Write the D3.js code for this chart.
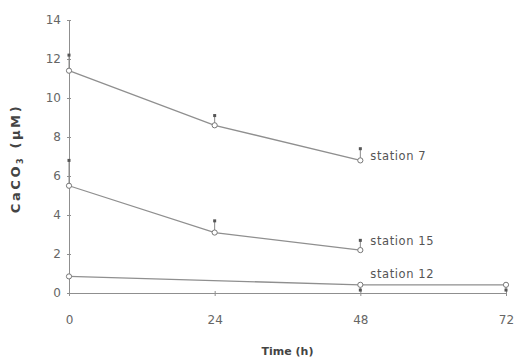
<!DOCTYPE html>
<html>
<head>
<meta charset="utf-8">
<script src="https://cdn.jsdelivr.net/npm/d3@7"></script>
<style>
  html, body { margin: 0; padding: 0; background: #fff; }
  svg { display: block; }
  text { font-family: "DejaVu Sans", "Liberation Sans", sans-serif; fill: #555; }
</style>
</head>
<body>
<svg id="chart" width="516" height="359"></svg>
<script>
// Sampling times (h)
const hours = [0, 24, 48, 72];
const yTicks = [0, 2, 4, 6, 8, 10, 12, 14];

// CaCO3 concentration (µM) per station
const station7Time = [0, 24, 48];
const station7Value = [11.4, 8.6, 6.8];
const station7ErrUp = [12.2, 9.1, 7.4];

const station15Time = [0, 24, 48];
const station15Value = [5.5, 3.1, 2.2];
const station15ErrUp = [6.8, 3.7, 2.7];

const station12Time = [0, 48, 72];
const station12Value = [0.85, 0.42, 0.42];
const station12ErrDown = [0.85, 0.15, 0.15];

const seriesNames = ["station 7", "station 15", "station 12"];

const series = [
  { name: seriesNames[0], t: station7Time, v: station7Value, err: station7ErrUp, labelDy: 0 },
  { name: seriesNames[1], t: station15Time, v: station15Value, err: station15ErrUp, labelDy: -5 },
  { name: seriesNames[2], t: station12Time, v: station12Value, err: station12ErrDown, labelDy: -7, labelAt: 1 }
];

const svg = d3.select("#chart");
const x = d3.scaleLinear().domain([0, 72]).range([69, 506]);
const y = d3.scaleLinear().domain([0, 14]).range([293, 20]);

const grey = "#8f8f8f";

// Axes
const yAxis = d3.axisLeft(y).tickValues(yTicks).tickSize(2).tickPadding(6).tickFormat(d3.format("d"));
const gy = svg.append("g").attr("transform", `translate(${x(0)},0)`).call(yAxis);
gy.select(".domain").attr("stroke", grey);
gy.selectAll(".tick line").attr("stroke", grey).attr("x2", 2).attr("x1", -2);
gy.selectAll(".tick text").attr("font-size", 12).style("fill", "#666");

const xAxis = d3.axisBottom(x).tickValues(hours).tickSize(3).tickPadding(19).tickFormat(d3.format("d"));
const gx = svg.append("g").attr("transform", `translate(0,${y(0)})`).call(xAxis);
gx.select(".domain").attr("stroke", grey);
gx.selectAll(".tick line").attr("stroke", grey).attr("y1", -2).attr("y2", 3);
gx.selectAll(".tick text").attr("font-size", 12).style("fill", "#666");

// Axis titles
svg.append("text")
  .attr("transform", `translate(20,${(y(0) + y(14)) / 2 + 2}) rotate(-90)`)
  .attr("text-anchor", "middle")
  .attr("font-size", 13).attr("font-weight", "bold")
  .attr("letter-spacing", 2.6)
  .style("fill", "#444")
  .html('CaCO<tspan font-size="8" dy="3">3</tspan><tspan dy="-3"> (µM)</tspan>');

svg.append("text")
  .attr("x", (x(0) + x(72)) / 2)
  .attr("y", 355)
  .attr("text-anchor", "middle")
  .attr("font-size", 11).attr("font-weight", "bold")
  .style("fill", "#444")
  .text("Time (h)");

const line = d3.line().x(d => x(d[0])).y(d => y(d[1]));

series.forEach(s => {
  const pts = s.t.map((t, i) => [t, s.v[i], s.err[i]]);
  const g = svg.append("g");

  g.append("path")
    .datum(pts)
    .attr("d", line)
    .attr("fill", "none")
    .attr("stroke", grey)
    .attr("stroke-width", 1.3);

  // Error bars
  g.selectAll("line.err").data(pts).enter().append("line")
    .attr("x1", d => x(d[0])).attr("x2", d => x(d[0]))
    .attr("y1", d => y(d[1])).attr("y2", d => y(d[2]))
    .attr("stroke", "#888").attr("stroke-width", 1);
  g.selectAll("rect.cap").data(pts).enter().append("rect")
    .attr("x", d => x(d[0]) - 1.5).attr("y", d => y(d[2]) - 1.5)
    .attr("width", 3).attr("height", 3)
    .attr("fill", "#555");

  // Markers
  g.selectAll("circle").data(pts).enter().append("circle")
    .attr("cx", d => x(d[0])).attr("cy", d => y(d[1]))
    .attr("r", 2.6)
    .attr("fill", "#fff")
    .attr("stroke", "#777").attr("stroke-width", 1);

  // Station label beside its 48 h point
  const idx = s.labelAt !== undefined ? s.labelAt : pts.length - 1;
  const p = pts[idx];
  g.append("text")
    .attr("x", x(p[0]) + 10)
    .attr("y", y(p[1]) + s.labelDy)
    .attr("font-size", 11.5)
    .attr("letter-spacing", 0.6)
    .style("fill", "#555")
    .text(s.name);
});
</script>
</body>
</html>
